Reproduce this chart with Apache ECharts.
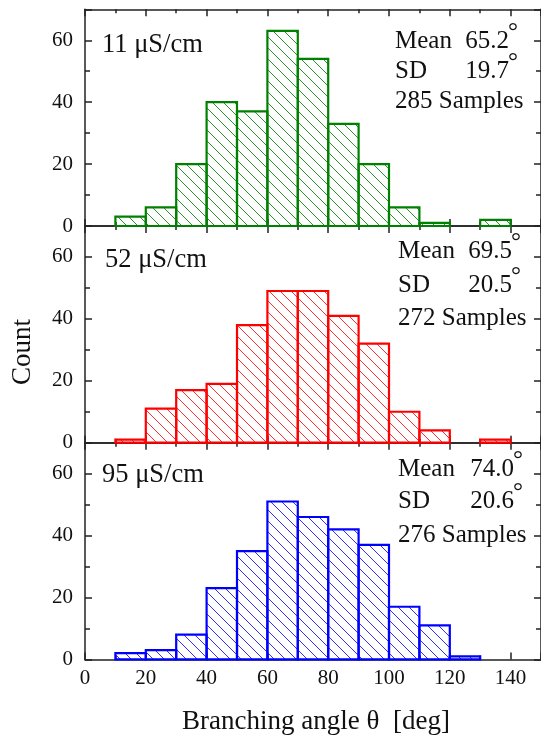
<!DOCTYPE html>
<html><head><meta charset="utf-8">
<script src="https://cdn.jsdelivr.net/npm/echarts@6/dist/echarts.min.js"></script>
<style>html,body{margin:0;padding:0;background:#fff}#c{width:541px;height:737px}</style>
</head><body><div id="c"></div>
<script>
// ---- data ----
const binStarts = [10,20,30,40,50,60,70,80,90,100,110,120,130];
const binWidth = 10;
const counts11 = [3,6,20,40,37,63,54,33,20,6,1,0,2];
const counts52 = [1,11,17,19,38,49,49,41,32,10,4,0,1];
const counts95 = [2,3,8,23,35,51,46,42,37,17,11,1,0];
const conductivities = ['11 μS/cm','52 μS/cm','95 μS/cm'];
const means = ['65.2','69.5','74.0'];
const sds = ['19.7','20.5','20.6'];
const samples = ['285','272','276'];
const yTickLabels = [0,20,40,60];
const xTickLabels = [0,20,40,60,80,100,120,140];
const xLabel = 'Branching angle θ  [deg]';
const yLabel = 'Count';

// ---- styles ----
const colors = ['#008000','#ff0000','#0000ff'];
const hatchColors = ['#2a962a','#ff3030','#3030ff'];
const FONT = 'Liberation Serif';
const panelTops = [9.3, 226, 442.7];
const panelH = 216.7;
// [meanY, sdY, samplesY, condY] offsets from panel top
const statOffsets = [[32.5,62.5,92.5,36],[25.5,59,92,34],[26.5,59,92.3,32.3]];
const statLeft = [395, 398, 398];
const numRight = [509, 512, 514];
const condLeft = [102, 105, 102];

function makeHatch(col){
  const s = 11;
  const c = document.createElement('canvas');
  c.width = s; c.height = s;
  const g = c.getContext('2d');
  g.strokeStyle = col; g.lineWidth = 1;
  g.beginPath();
  for (let k=-1;k<=1;k++){ g.moveTo(k*s-1,-1); g.lineTo(k*s+s+1,s+1); }
  g.stroke();
  return c;
}

const allCounts = [counts11, counts52, counts95];
const chart = echarts.init(document.getElementById('c'), null, {renderer:'canvas'});

const grids = [], xAxes = [], yAxes = [], series = [], graphics = [];
const axisLine = {show:true, onZero:false, lineStyle:{color:'#222', width:1.5}};
for (let i=0;i<3;i++){
  grids.push({left:85, width:462.5, top:panelTops[i], height:panelH});
  const xBase = {gridIndex:i, type:'value', min:0, max:150, interval:20,
    axisLine, splitLine:{show:false},
    axisTick:{inside:true, length:7, lineStyle:{color:'#222', width:1.5}},
    minorTick:{show:true, splitNumber:2, length:4, lineStyle:{color:'#222', width:1.5}}};
  xAxes.push(Object.assign({}, xBase, {position:'bottom',
    axisLabel:{show:i===2, showMaxLabel:false, margin:9, color:'#111', fontFamily:FONT, fontSize:21,
      formatter:v => xTickLabels.includes(v) ? String(v) : ''}}));
  xAxes.push(Object.assign({}, xBase, {position:'top', axisLabel:{show:false}}));
  const yBase = {gridIndex:i, type:'value', min:0, max:70, interval:20,
    axisLine, splitLine:{show:false},
    axisTick:{inside:true, length:7, lineStyle:{color:'#222', width:1.5}},
    minorTick:{show:true, splitNumber:2, length:5, lineStyle:{color:'#222', width:1.5}}};
  yAxes.push(Object.assign({}, yBase, {position:'left',
    axisLabel:{show:true, showMaxLabel:false, margin:12, color:'#111', fontFamily:FONT, fontSize:21,
      formatter:v => yTickLabels.includes(v) ? String(v) : ''}}));
  yAxes.push(Object.assign({}, yBase, {position:'right', axisLabel:{show:false}}));

  const pattern = {image: makeHatch(hatchColors[i]), repeat:'repeat'};
  const col = colors[i];
  series.push({
    type:'custom', xAxisIndex:2*i, yAxisIndex:2*i,
    data: binStarts.map((s,j)=>[s, s+binWidth, allCounts[i][j]]),
    encode:{x:[0,1], y:2},
    renderItem:(params, api)=>{
      const v = api.value(2);
      if (!v) return null;
      const p0 = api.coord([api.value(0), v]);
      const p1 = api.coord([api.value(1), 0]);
      return {type:'rect', shape:{x:p0[0], y:p0[1], width:p1[0]-p0[0], height:p1[1]-p0[1]},
        style:{fill:pattern, stroke:col, lineWidth:2.2}};
    },
    z:1
  });

  const T = panelTops[i], o = statOffsets[i];
  const tf = (t, x, y, align, size) => ({type:'text', x, y, z:100,
    style:{text:t, fill:'#111', font:`${size||25}px "${FONT}"`, textAlign:align||'left', textVerticalAlign:'middle'}});
  graphics.push(tf(conductivities[i], condLeft[i], T+o[3], 'left', 26.5));
  graphics.push(tf('Mean', statLeft[i], T+o[0]));
  graphics.push(tf(means[i], numRight[i], T+o[0], 'right'));
  graphics.push(tf('°', numRight[i]-1, T+o[0]-9, 'left'));
  graphics.push(tf('SD', statLeft[i], T+o[1]));
  graphics.push(tf(sds[i], numRight[i], T+o[1], 'right'));
  graphics.push(tf('°', numRight[i]-1, T+o[1]-9, 'left'));
  graphics.push(tf(samples[i] + ' Samples', statLeft[i], T+o[2]));
}
graphics.push({type:'text', x:316, y:722, z:100,
  style:{text:xLabel, fill:'#111', font:`27px "${FONT}"`, textAlign:'center', textVerticalAlign:'middle'}});
graphics.push({type:'text', x:23, y:352, rotation:Math.PI/2, z:100,
  style:{text:yLabel, fill:'#111', font:`27px "${FONT}"`, textAlign:'center', textVerticalAlign:'middle'}});

chart.setOption({
  animation:false,
  backgroundColor:'#fff',
  grid:grids, xAxis:xAxes, yAxis:yAxes, series, graphic:graphics
});
</script></body></html>
